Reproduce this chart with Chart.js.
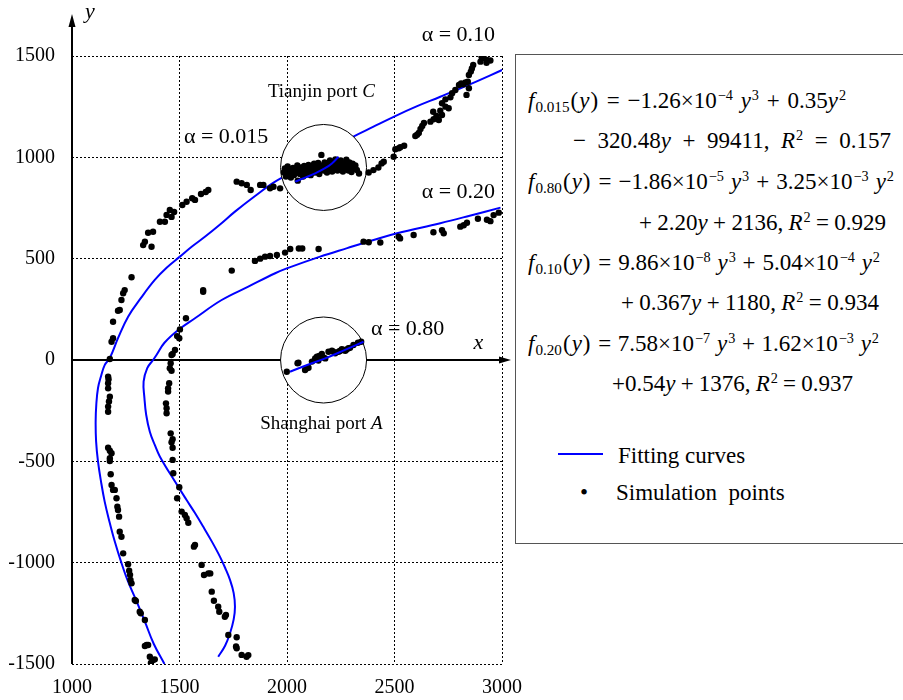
<!DOCTYPE html>
<html>
<head>
<meta charset="utf-8">
<script src="https://cdn.jsdelivr.net/npm/chart.js@4.4.1/dist/chart.umd.min.js"></script>
<style>
  html, body { margin: 0; padding: 0; background: #fff; overflow: hidden; }
  #wrap { position: relative; width: 903px; height: 700px; }
  #chart { position: absolute; left: 0; top: 0; }
  #box {
    position: absolute; left: 515px; top: 54px; width: 420px; height: 488px;
    border: 1.5px solid #555; background: #fff;
    font-family: "Liberation Serif", "Times New Roman", serif; font-size: 23px; color: #000;
  }
  #box .ln { position: absolute; white-space: nowrap; line-height: 26px; }
  #box sup { font-size: 62%; vertical-align: 0.55em; line-height: 0; margin-left: 1px; }
  #box sub { font-size: 66%; vertical-align: -0.28em; line-height: 0; margin-left: 1px; }
  #box i { font-style: italic; }
  #box .p { margin: 0 1px; }
  #box .swatch { position: absolute; left: 42px; top: 398px; width: 45px; height: 2px; background: #0000ff; }
</style>
</head>
<body>
<div id="wrap">
  <canvas id="chart" width="903" height="700"></canvas>
  <div id="box">
    <div class="ln" data-w="318" style="left:12px;top:33px"><i>f</i><sub>0.015</sub><span class="p">(</span><i>y</i><span class="p">)</span> = −1.26×10<sup>−4</sup> <i>y</i><sup>3</sup> + 0.35<i>y</i><sup>2</sup></div>
    <div class="ln" data-w="318" style="left:57px;top:73px">− 320.48<i>y</i> + 99411, <i>R</i><sup>2</sup> = 0.157</div>
    <div class="ln" data-w="366" style="left:12px;top:114px"><i>f</i><sub>0.80</sub><span class="p">(</span><i>y</i><span class="p">)</span> = −1.86×10<sup>−5</sup> <i>y</i><sup>3</sup> + 3.25×10<sup>−3</sup> <i>y</i><sup>2</sup></div>
    <div class="ln" data-w="247" style="left:123px;top:155px">+ 2.20<i>y</i> + 2136, <i>R</i><sup>2</sup> = 0.929</div>
    <div class="ln" data-w="352" style="left:12px;top:195px"><i>f</i><sub>0.10</sub><span class="p">(</span><i>y</i><span class="p">)</span> = 9.86×10<sup>−8</sup> <i>y</i><sup>3</sup> + 5.04×10<sup>−4</sup> <i>y</i><sup>2</sup></div>
    <div class="ln" data-w="258" style="left:105px;top:235px">+ 0.367<i>y</i> + 1180, <i>R</i><sup>2</sup> = 0.934</div>
    <div class="ln" data-w="351" style="left:12px;top:276px"><i>f</i><sub>0.20</sub><span class="p">(</span><i>y</i><span class="p">)</span> = 7.58×10<sup>−7</sup> <i>y</i><sup>3</sup> + 1.62×10<sup>−3</sup> <i>y</i><sup>2</sup></div>
    <div class="ln" data-w="241" style="left:96px;top:316px">+0.54<i>y</i> + 1376, <i>R</i><sup>2</sup> = 0.937</div>
    <div class="swatch"></div>
    <div class="ln" style="left:102px;top:388px">Fitting curves</div>
    <div class="ln" style="left:64px;top:425px">•</div>
    <div class="ln" style="left:100px;top:425px">Simulation&nbsp; points</div>
  </div>
</div>
<script>
var xTicks = [1000, 1500, 2000, 2500, 3000];
var yTicks = [-1500, -1000, -500, 0, 500, 1000, 1500];

// fitted curves as [x, y]
var fit010 = [[1430,-1500],[1380,-1400],[1339,-1291],[1300,-1190],[1261,-1094],[1228,-995],[1199,-896],
  [1174,-797],[1152,-699],[1135,-600],[1121,-502],[1112,-400],[1110,-304],[1113,-220],[1121,-138],
  [1135,-80],[1152,-25],[1176,10],[1215,110],[1261,214],[1320,305],[1385,395],[1440,455],[1502,510],
  [1558,560],[1618,608],[1690,670],[1758,732],[1850,808],[1945,880],[2068,950],[2150,1000],[2235,1050],
  [2309,1102],[2400,1150],[2496,1200],[2600,1250],[2713,1299],[2850,1360],[3001,1431]];
var fit020 = [[1680,-1464],[1712,-1410],[1735,-1348],[1752,-1280],[1758,-1217],[1752,-1150],[1735,-1085],
  [1712,-1025],[1688,-970],[1650,-895],[1610,-822],[1572,-755],[1533,-691],[1479,-600],[1409,-477],
  [1385,-419],[1362,-354],[1345,-270],[1337,-189],[1333,-107],[1350,-40],[1377,0],[1393,25],[1430,85],
  [1494,148],[1572,206],[1696,296],[1820,362],[1945,428],[1999,452],[2154,510],[2280,552],[2403,592],
  [2512,625],[2713,675],[2850,712],[2993,752]];
var fit0015 = [[2038,880],[2090,902],[2131,921],[2175,945],[2209,970],[2240,1003]];
var fit080 = [[2014,-58],[2100,-22],[2178,8],[2270,50],[2356,90]];

// simulation points
var simPoints = [
  // alpha 0.10, lower left branch
  [1367,-1495],[1377,-1480],[1385,-1477],[1362,-1464],[1354,-1406],[1347,-1406],[1339,-1411],[1339,-1283],
  [1320,-1250],[1315,-1242],[1297,-1189],[1292,-1184],[1277,-1102],[1272,-1085],[1270,-1060],[1266,-1040],
  [1261,-1008],[1238,-954],[1230,-872],[1222,-847],[1219,-773],[1214,-740],[1211,-724],[1207,-682],
  [1199,-641],[1191,-641],[1184,-617],[1180,-564],[1176,-498],[1176,-485],[1184,-460],[1176,-448],
  [1168,-433],[1168,-255],[1168,-230],[1172,-205],[1176,-181],[1168,-140],[1168,-115],[1170,-95],
  [1168,-82],[1176,5],
  // alpha 0.10, upper left branch
  [1184,90],[1191,107],[1191,189],[1214,243],[1222,247],[1230,296],[1238,329],[1245,345],[1277,408],
  [1331,567],[1339,584],[1370,559],[1354,628],[1377,633],[1409,682],[1432,682],[1440,716],[1455,740],
  [1463,706],[1475,730],[1513,765],[1533,781],[1559,798],[1572,790],[1600,819],[1622,829],[1634,839],
  [1766,880],[1789,872],[1813,864],[1831,839],[1875,864],[1890,864],[1921,847],[1937,855],[1968,847],
  // Tianjin port cluster
  [1985,925],[1990,945],[1995,905],[2000,935],[2003,955],[2008,918],[2012,940],[2018,900],[2022,930],
  [2028,948],[2032,912],[2038,938],[2042,925],[2048,960],[2050,885],[2055,942],[2060,918],[2066,950],
  [2070,930],[2075,905],[2080,958],[2085,938],[2090,920],[2095,945],[2100,962],[2105,930],[2110,912],
  [2115,950],[2120,938],[2126,968],[2130,925],[2135,955],[2140,940],[2145,972],[2150,918],[2155,948],
  [2160,1012],[2165,960],[2170,935],[2175,975],[2180,952],[2186,925],[2190,968],[2195,945],[2200,985],
  [2205,958],[2210,930],[2215,972],[2220,948],[2225,990],[2230,962],[2235,935],[2240,975],[2245,952],
  [2250,985],[2256,965],[2260,930],[2265,970],[2270,948],[2276,988],[2280,960],[2286,935],[2290,975],
  [2296,952],[2300,928],[2305,968],[2310,945],[2318,960],[2325,938],[2335,920],
  [2380,925],[2402,937],[2425,950],[2440,970],[2450,978],
  // alpha 0.10, upper right
  [2496,1003],[2504,1040],[2520,1045],[2527,1050],[2545,1057],[2597,1105],[2605,1112],[2613,1120],
  [2621,1140],[2629,1155],[2637,1170],[2667,1176],[2682,1188],[2695,1204],[2680,1225],[2706,1184],
  [2713,1230],[2721,1209],[2737,1250],[2752,1242],[2721,1267],[2737,1286],[2760,1296],[2768,1316],
  [2783,1332],[2800,1357],[2810,1365],[2820,1360],[2830,1370],[2835,1308],[2846,1341],[2841,1373],
  [2846,1406],[2855,1423],[2860,1438],[2866,1456],[2900,1472],[2905,1496],[2915,1490],[2928,1467],
  [2930,1480],[2946,1478],
  // alpha 0.20, upper branch
  [1743,441],[1851,489],[1875,500],[1898,510],[1921,513],[1953,518],[1991,530],[2015,548],[2055,550],
  [2071,550],[2147,548],[2356,584],[2380,581],[2434,580],[2519,608],[2526,600],[2589,617],[2681,630],
  [2721,640],[2729,625],[2806,658],[2822,665],[2837,677],[2888,697],[2930,692],[2946,685],[2961,715],
  [2985,727],
  // alpha 0.20, lower branch
  [1610,345],[1610,337],[1530,206],[1502,151],[1489,118],[1499,107],[1479,49],[1468,30],[1463,25],
  [1459,-16],[1455,-41],[1463,-53],[1452,-115],[1447,-140],[1447,-156],[1437,-214],[1440,-238],
  [1440,-263],[1459,-362],[1468,-391],[1463,-406],[1468,-433],[1468,-493],[1471,-559],[1499,-628],
  [1489,-682],[1510,-748],[1525,-765],[1533,-781],[1541,-803],[1567,-921],[1572,-913],[1603,-1011],
  [1614,-1061],[1634,-1053],[1643,-1053],[1650,-1143],[1660,-1188],[1680,-1217],[1685,-1242],
  [1711,-1267],[1716,-1258],[1727,-1357],[1766,-1368],[1763,-1414],[1766,-1422],[1789,-1455],
  [1812,-1464],[1820,-1456],
  // Shanghai port cluster
  [1999,-58],[2049,-16],[2053,-13],[2084,-49],[2092,-41],[2100,-38],[2116,-8],[2131,8],[2139,16],
  [2146,-3],[2150,20],[2162,30],[2170,12],[2178,8],[2193,41],[2209,46],[2216,41],[2224,33],[2240,41],
  [2246,45],[2255,53],[2262,49],[2271,46],[2277,52],[2286,58],[2293,60],[2309,74],[2330,85],[2345,90]
];

// centres of the two port circles
var portCircles = [[2170, 950], [2170, 0]];

function toXY(arr) {
  return arr.map(function (p) { return { x: p[0], y: p[1] }; });
}

// stretch the spacing of each formula line to the width it has in the picture
document.querySelectorAll("#box .ln[data-w]").forEach(function (el) {
  var n = (el.textContent.match(/ /g) || []).length;
  var w = el.getBoundingClientRect().width;
  if (n > 0) el.style.wordSpacing = ((+el.dataset.w - w) / n).toFixed(2) + "px";
});

var FONT = "'Liberation Serif', 'Times New Roman', serif";
Chart.defaults.font.family = FONT;
Chart.defaults.color = "#000";
var BLUE = "#0000ff";

function curve(data, order) {
  return { data: toXY(data), showLine: true, borderColor: BLUE, borderWidth: 2, pointRadius: 0, tension: 0.4, fill: false, order: order };
}

// axes with arrows, drawn under the datasets
var axesPlugin = {
  id: "axesPlugin",
  beforeDatasetsDraw: function (chart) {
    var ctx = chart.ctx, a = chart.chartArea;
    var x0 = chart.scales.x.getPixelForValue(1000);
    var y0 = chart.scales.y.getPixelForValue(0);
    ctx.save();
    ctx.strokeStyle = "#000"; ctx.fillStyle = "#000"; ctx.lineWidth = 2;
    ctx.beginPath(); ctx.moveTo(x0, a.bottom); ctx.lineTo(x0, a.top - 32); ctx.stroke();
    ctx.beginPath(); ctx.moveTo(x0, a.top - 42); ctx.lineTo(x0 - 3.5, a.top - 29); ctx.lineTo(x0 + 3.5, a.top - 29); ctx.closePath(); ctx.fill();
    ctx.beginPath(); ctx.moveTo(a.left, y0); ctx.lineTo(a.right + 2, y0); ctx.stroke();
    ctx.beginPath(); ctx.moveTo(a.right + 9, y0); ctx.lineTo(a.right - 3, y0 - 3.5); ctx.lineTo(a.right - 3, y0 + 3.5); ctx.closePath(); ctx.fill();
    ctx.restore();
  },
};

// white port circles, drawn over the long fitting curves and under the points
var circlesPlugin = {
  id: "circlesPlugin",
  afterDatasetDraw: function (chart, args) {
    if (args.index !== 0) return;
    var ctx = chart.ctx, sx = chart.scales.x, sy = chart.scales.y;
    ctx.save();
    ctx.fillStyle = "#fff";
    ctx.strokeStyle = "#000";
    ctx.lineWidth = 1;
    portCircles.forEach(function (c) {
      ctx.beginPath();
      ctx.arc(sx.getPixelForValue(c[0]), sy.getPixelForValue(c[1]), 43, 0, Math.PI * 2);
      ctx.fill();
      ctx.stroke();
    });
    ctx.restore();
  },
};

// text labels inside the plot
function drawParts(ctx, parts, size, cx, cy) {
  var w = 0;
  parts.forEach(function (p) {
    ctx.font = (p[1] ? "italic " : "") + size + "px " + FONT;
    w += ctx.measureText(p[0]).width;
  });
  var x = cx - w / 2;
  ctx.textBaseline = "middle";
  ctx.textAlign = "left";
  parts.forEach(function (p) {
    ctx.font = (p[1] ? "italic " : "") + size + "px " + FONT;
    ctx.fillText(p[0], x, cy);
    x += ctx.measureText(p[0]).width;
  });
}

var labelsPlugin = {
  id: "labelsPlugin",
  afterDraw: function (chart) {
    var ctx = chart.ctx, sx = chart.scales.x, sy = chart.scales.y;
    var items = [
      [[["α = 0.10", false]], 22, 2797, 1604],
      [[["α = 0.015", false]], 22, 1717, 1100],
      [[["α = 0.20", false]], 22, 2797, 829],
      [[["α = 0.80", false]], 22, 2561, 153],
      [[["Tianjin port ", false], ["C", true]], 19, 2160, 1322],
      [[["Shanghai port ", false], ["A", true]], 19, 2160, -316],
      [[["x", true]], 22, 2890, 84],
      [[["y", true]], 22, 1083, 1717],
    ];
    ctx.save();
    ctx.fillStyle = "#000";
    items.forEach(function (it) {
      drawParts(ctx, it[0], it[1], sx.getPixelForValue(it[2]), sy.getPixelForValue(it[3]));
    });
    ctx.restore();
  },
};

var ctx = document.getElementById("chart").getContext("2d");
var chart = new Chart(ctx, {
  type: "scatter",
  data: {
    datasets: [
      curve(fit010, 6),
      curve(fit020, 6),
      { data: toXY(simPoints), pointRadius: 3.2, pointBackgroundColor: "#000", pointBorderColor: "#000", pointBorderWidth: 0, order: 3 },
      curve(fit0015, 1),
      curve(fit080, 1),
    ],
  },
  options: {
    responsive: false,
    animation: false,
    layout: { padding: { left: 0, top: 56, right: 401, bottom: 0 } },
    plugins: { legend: { display: false }, tooltip: { enabled: false } },
    events: [],
    scales: {
      x: {
        type: "linear", min: 1000, max: 3000,
        afterBuildTicks: function (s) { s.ticks = xTicks.map(function (v) { return { value: v }; }); },
        afterFit: function (s) { s.height = 36; s.paddingLeft = 0; s.paddingRight = 0; },
        ticks: { callback: function (v) { return String(v); }, font: { size: 20 }, color: "#000", padding: 12, maxRotation: 0, autoSkip: false },
        grid: { color: "#000", lineWidth: 1, drawTicks: false },
        border: { display: false, dash: [2, 2] },
      },
      y: {
        type: "linear", min: -1500, max: 1500,
        afterBuildTicks: function (s) { s.ticks = yTicks.map(function (v) { return { value: v }; }); },
        afterFit: function (s) { s.width = 72; s.paddingTop = 0; s.paddingBottom = 0; },
        ticks: { callback: function (v) { return String(v); }, font: { size: 20 }, color: "#000", padding: 17, autoSkip: false },
        grid: { color: "#000", lineWidth: 1, drawTicks: false },
        border: { display: false, dash: [2, 2] },
      },
    },
  },
  plugins: [axesPlugin, circlesPlugin, labelsPlugin],
});
</script>
</body>
</html>
